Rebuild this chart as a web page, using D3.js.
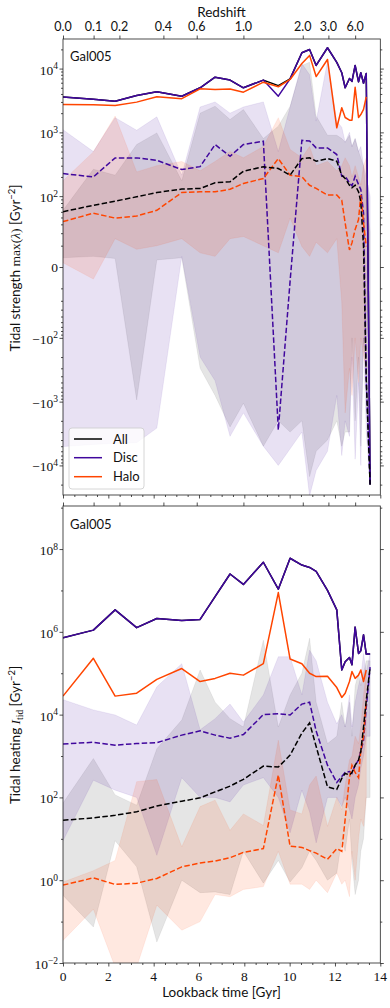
<!DOCTYPE html>
<html>
<head>
<meta charset="utf-8">
<script src="https://cdn.jsdelivr.net/npm/d3@7"></script>
<style>
  body { margin: 0; background: #fff; }
  .sans { font-family: Lato, "DejaVu Sans", sans-serif; }
  .serif { font-family: "Liberation Serif", "DejaVu Serif", serif; }
</style>
</head>
<body>
<svg id="chart" width="390" height="1008"></svg>
<script>
// lookback time of each snapshot [Gyr]
const T = [0, 1.34, 2.3, 3.25, 4.14, 5.24, 6.05, 6.71, 7.37, 7.96, 8.84, 9.5, 10.02, 10.54, 10.88,
  11.17, 11.67, 12.08, 12.3, 12.45, 12.64, 12.75, 12.89, 13.04, 13.14, 13.26, 13.38, 13.55];

// top panel: tidal strength max(lambda) [Gyr^-2]
const strAllMax  = [3600, 3300, 3080, 3790, 4330, 3690, 5000, 7330, 6600, 5000, 6600, 5400, 6900, 17700, 19900, 11200, 21200, 12500, 8600, 5000, 7000, 6300, 11200, 6200, 8600, 5900, 8400, -20000];
const strDiscMax = [3600, 3300, 3080, 3790, 4330, 3690, 5000, 7330, 6600, 5000, 6600, 3690, 6900, 17700, 19900, 11200, 21200, 12500, 8600, 5000, 7000, 6300, 11200, 6200, 8600, 5900, 8400, -20000];
const strHaloMax = [2740, 2700, 2640, 2980, 3610, 3370, 4820, 4700, 4800, 4270, 6120, 5190, 6760, 12000, 16100, 7500, 13900, 1180, 2430, 1710, 1550, 1550, 5100, 1710, 1900, 2290, 3600, null];
const strAllMed  = [78, 87, 93, 99, 114, 129, 132, 162, 168, 246, 288, 271, 213, 388, 400, 352, 388, 352, 213, 189, 148, 135, 148, 117, 92, 29, -450, -20000];
const strDiscMed = [226, 200, 398, 398, 365, 261, 290, 644, 422, 644, 726, -2770, -20, 752, 730, 571, 571, 449, 205, 205, 161, 145, 205, 152, 127, 76, -450, -20000];
const strHaloMed = [64, 76, 69, 72, 80, 114, 117, 117, 128, 158, 189, 388, 213, 201, 148, 132, 104, 104, 94, 62, 24, 34, 53, 67, 104, 62, 29, null];
const strAllLo   = [13, 15, 12, -940, 10, 13, -300, -800, -2500, -1060, -5000, -2000, -3000, -2000, -15000, -6000, -4000, -2000, -5000, -3000, -3000, -100, -2000, -200, -5000, -100, -500, -20000];
const strAllHi   = [80, 264, 213, 645, 980, 174, 2000, 2570, 1590, 2280, 800, 1250, 2570, 11200, 12600, 1800, 900, 900, 800, 700, 900, 600, 800, 500, 400, 300, 100, 50];
const strDiscLo  = [-5070, -4700, -4500, -4400, -2600, 15, -200, -470, -3500, -1500, -5000, -10000, -5500, -3000, -30000, -12000, -6000, -800, -7000, -2000, -3500, -200, -8000, -500, -10000, -100, -3000, -20000];
const strDiscHi  = [1100, 500, 1700, 1080, 1750, 213, 2500, 3000, 2000, 2500, 3000, 500, 2500, 12000, 8000, 1500, 13000, 1500, 1200, 700, 1000, 600, 800, 500, 600, 300, 200, 100];
const strHaloLo  = [6, -17, 40, 25, 30, 40, 20, 15, 40, 43, 30, 20, 69, 29, 15, 35, 20, 40, -50, -1500, -300, -800, -100, -500, -100, -200, -300, null];
const strHaloHi  = [174, 494, 1800, 240, 300, 350, 250, 350, 500, 400, 600, 1700, 540, 400, 600, 300, 350, 250, 300, 400, 300, 200, 300, 200, 150, 300, 400, null];

// bottom panel: tidal heating I_tid [Gyr^-2]
const heatAllMax  = [7.2e5, 1.1e6, 3.4e6, 1.26e6, 2.1e6, 1.87e6, 2.0e6, 7.1e6, 2.5e7, 1.4e7, 4.8e7, 1.07e7, 6.0e7, 4.1e7, 3.6e7, 2.9e7, 1.0e7, 3.4e6, 1.2e5, 1.9e5, 2.4e5, 1.6e5, 1.3e6, 3.0e5, 3.5e5, 8.5e5, 2.9e5, 2.9e5];
const heatDiscMax = [7.2e5, 1.1e6, 3.4e6, 1.26e6, 2.1e6, 1.87e6, 2.0e6, 7.1e6, 2.5e7, 1.4e7, 4.8e7, 1.07e7, 6.0e7, 4.1e7, 3.6e7, 2.9e7, 1.0e7, 3.4e6, 1.2e5, 1.9e5, 2.4e5, 1.6e5, 1.3e6, 3.0e5, 3.5e5, 8.5e5, 2.9e5, 2.9e5];
const heatHaloMax = [2.8e4, 2.3e5, 2.8e4, 3.3e4, 7.1e4, 1.3e5, 6.3e4, 7.5e4, 1.0e5, 9e4, 1.7e5, 8.9e6, 2.2e5, 1.7e5, 1.0e5, 8.3e4, 8.5e4, 4.5e4, 2.6e4, 3.3e4, 6.3e4, 1.1e5, 7.5e4, 9e4, 1.2e5, 6.3e4, 1.2e5, null];
const heatAllMed  = [28, 32, 37, 45, 62, 81, 98, 136, 187, 274, 570, 540, 1050, 3600, 6300, 1700, 180, 156, 288, 380, 350, 400, 600, 800, 1300, 5000, 2.2e4, 1.4e5];
const heatDiscMed = [1950, 2150, 1830, 2000, 2100, 3200, 4050, 3200, 2700, 3300, 1.0e4, 1.05e4, 9.8e3, 1.8e4, 2.0e4, 4000, 600, 230, 320, 400, 420, 380, 600, 800, 1300, 2400, 1.5e4, 1.4e5];
const heatHaloMed = [0.76, 1.14, 0.79, 0.85, 1.1, 2.1, 2.6, 2.9, 3.5, 4.7, 5.8, 347, 6.6, 6.2, 5.2, 4.5, 3.2, 5.8, 5, 30, 300, 600, 400, 300, 1400, 3000, 2.2e4, null];
const heatAllLo   = [0.43, 0.074, 9, 2.1, 0.032, 1, 0.5, 0.52, 0.45, 5, 0.85, 3, 0.9, 2, 5, 3, 1, 1.5, 10, 5, 30, 3, 0.45, 1, 5, 10, 100, 100];
const heatAllHi   = [73, 870, 115, 65, 1500, 7400, 1.2e5, 2e4, 8e3, 5e3, 6.3e5, 5e3, 3e4, 1e5, 7e5, 2e4, 2e3, 3e3, 2e4, 5e3, 2e4, 3e3, 5e4, 1e5, 5e4, 1e5, 2e5, 2e5];
const heatDiscLo  = [9, 260, 150, 100, 4, 300, 100, 100, 78, 200, 300, 100, 14, 150, 45, 8, 100, 100, 60, 100, 50, 30, 100, 200, 500, 1000, 3000, 3000];
const heatDiscHi  = [2.3e4, 1.3e4, 9.8e3, 5.6e3, 4.7e4, 1.7e5, 4300, 8e3, 1.8e4, 6.6e3, 3e4, 2.5e5, 2.5e5, 3e4, 3.6e5, 2e5, 2e4, 6e3, 1e4, 5e3, 3e4, 5e3, 2e4, 5e4, 8e4, 3e5, 1e5, 3e5];
const heatHaloLo  = [0.035, 0.2, 0.008, 0.008, 0.25, 0.062, 0.1, 0.45, 0.4, 0.6, 0.7, 5, 0.8, 0.8, 0.6, 1, 0.5, 1.5, 0.8, 1, 0.4, 5, 1, 10, 30, 20, 100, null];
const heatHaloHi  = [0.9, 1.7, 3, 240, 270, 6.4, 60, 86, 16, 40, 21, 2400, 50, 40, 200, 330, 20, 100, 50, 200, 800, 1000, 3000, 2000, 5000, 3e4, 1e5, null];

// axes
const timeMajor = [0, 2, 4, 6, 8, 10, 12, 14];
const timeMinor = d3.range(0, 14.01, 0.5).filter(t => t % 2 !== 0);
const zLabels = ['0.0', '0.1', '0.2', '0.4', '0.6', '1.0', '2.0', '3.0', '6.0'];
const zLookback = [0, 1.35, 2.49, 4.43, 5.9, 7.96, 10.58, 11.71, 12.89];
const strMajor = [1e4, 1e3, 1e2, 0, -1e2, -1e3, -1e4];
const heatMajor = [1e8, 1e6, 1e4, 1e2, 1, 1e-2];
const heatMinor = [1e9, 1e7, 1e5, 1e3, 10, 0.1];

const names = ['All', 'Disc', 'Halo'];
const colors = ['#000000', '#40079d', '#ff4500'];
const bandAlpha = [0.1, 0.12, 0.12];

const svg = d3.select('#chart');
const L = 63, R = 380.3;
const topY0 = 39, topY1 = 495, botY0 = 506, botY1 = 963;

const x = d3.scaleLinear().domain([0, 14]).range([L, R]);

// matplotlib-style symlog, linthresh 100, linscale 1
const LIN = 1 / 0.9;
const symlog = v => Math.abs(v) <= 100 ? v / 100 * LIN : Math.sign(v) * (LIN + Math.log10(Math.abs(v) / 100));
const yTopS = d3.scaleLinear().domain([-3.575, 3.575]).range([topY1, topY0]);
const yTop = v => yTopS(symlog(v));
const yBot = d3.scaleLog().domain([1e-2, Math.pow(10, 9.04)]).range([botY1, botY0]);

function drawPanel(yf, bands, mains, meds, clipId, y0, y1) {
  svg.append('clipPath').attr('id', clipId)
    .append('rect').attr('x', L).attr('y', y0).attr('width', R - L).attr('height', y1 - y0);
  const g = svg.append('g').attr('clip-path', `url(#${clipId})`);

  bands.forEach((b, k) => {
    const rows = T.map((t, i) => ({t, lo: b[0][i], hi: b[1][i]}));
    g.append('path').datum(rows)
      .attr('d', d3.area()
        .defined(d => d.lo != null && d.hi != null)
        .x(d => x(d.t)).y0(d => yf(d.lo)).y1(d => yf(d.hi)))
      .attr('fill', colors[k]).attr('fill-opacity', bandAlpha[k])
      .attr('stroke', colors[k]).attr('stroke-opacity', bandAlpha[k] * 0.8)
      .attr('stroke-width', 0.8);
  });

  const line = d3.line().defined(d => d[1] != null).x(d => x(d[0])).y(d => yf(d[1]));
  mains.forEach((s, k) => {
    g.append('path').datum(T.map((t, i) => [t, s[i]]))
      .attr('d', line).attr('fill', 'none')
      .attr('stroke', colors[k]).attr('stroke-width', 1.5).attr('stroke-linejoin', 'round');
  });
  [1, 2, 0].forEach(k => {
    g.append('path').datum(T.map((t, i) => [t, meds[k][i]]))
      .attr('d', line).attr('fill', 'none')
      .attr('stroke', colors[k]).attr('stroke-width', 1.5)
      .attr('stroke-dasharray', '5.5,2.4');
  });

  svg.append('rect').attr('x', L).attr('y', y0).attr('width', R - L).attr('height', y1 - y0)
    .attr('fill', 'none').attr('stroke', '#222').attr('stroke-width', 0.8);
}

drawPanel(yTop,
  [[strAllLo, strAllHi], [strDiscLo, strDiscHi], [strHaloLo, strHaloHi]],
  [strAllMax, strDiscMax, strHaloMax],
  [strAllMed, strDiscMed, strHaloMed], 'clipTop', topY0, topY1);

drawPanel(yBot,
  [[heatAllLo, heatAllHi], [heatDiscLo, heatDiscHi], [heatHaloLo, heatHaloHi]],
  [heatAllMax, heatDiscMax, heatHaloMax],
  [heatAllMed, heatDiscMed, heatHaloMed], 'clipBot', botY0, botY1);

// tick helper
function tickAxis(axis, scale, vals, size, tx, ty) {
  const g = svg.append('g').attr('transform', `translate(${tx},${ty})`)
    .call(axis(scale).tickValues(vals).tickSize(size).tickFormat(''));
  g.select('.domain').remove();
  g.selectAll('.tick line').attr('stroke', '#222').attr('stroke-width', 0.8);
  return g;
}

// top-panel y ticks
const strMinorT = [];
[2, 3, 4].forEach(e => d3.range(2, 10).forEach(m => {
  const v = m * Math.pow(10, e);
  if (symlog(v) < 3.575) { strMinorT.push(symlog(v), -symlog(v)); }
}));
d3.range(2, 10).forEach(m => {
  const p = LIN * Math.log10(m);
  strMinorT.push(p, -p);
});
const strMajorT = strMajor.map(symlog);
tickAxis(d3.axisLeft, yTopS, strMajorT, 3.5, L, 0);
tickAxis(d3.axisLeft, yTopS, strMinorT, 2, L, 0);
tickAxis(d3.axisRight, yTopS, strMajorT, 3.5, R, 0);
tickAxis(d3.axisRight, yTopS, strMinorT, 2, R, 0);

// bottom-panel y ticks
tickAxis(d3.axisLeft, yBot, heatMajor, 3.5, L, 0);
tickAxis(d3.axisLeft, yBot, heatMinor, 2, L, 0);
tickAxis(d3.axisRight, yBot, heatMajor, 3.5, R, 0);
tickAxis(d3.axisRight, yBot, heatMinor, 2, R, 0);

// x ticks
tickAxis(d3.axisBottom, x, timeMajor, 3.5, 0, topY1);
tickAxis(d3.axisBottom, x, timeMinor, 2, 0, topY1);
tickAxis(d3.axisBottom, x, timeMajor, 3.5, 0, botY1);
tickAxis(d3.axisBottom, x, timeMinor, 2, 0, botY1);
tickAxis(d3.axisTop, x, zLookback, 3.5, 0, topY0);
tickAxis(d3.axisTop, x, zLookback, 3.5, 0, botY0);

// power-of-ten labels
function powLabel(v, xPos, yPos) {
  const t = svg.append('text').attr('class', 'serif').attr('x', xPos).attr('y', yPos)
    .attr('text-anchor', 'end').attr('font-size', 13.5).attr('fill', '#111');
  if (v === 0) { t.text('0'); return; }
  const e = Math.round(Math.log10(Math.abs(v)));
  t.append('tspan').text((v < 0 ? '\u2212' : '') + '10');
  t.append('tspan').attr('dy', -5.5).attr('font-size', 9.5).text(String(e).replace('-', '\u2212'));
}
strMajor.forEach(v => powLabel(v, 58, yTop(v) + (v === 0 ? 4.5 : 6)));
heatMajor.forEach(v => powLabel(v, 58, yBot(v) + 6));

// bottom x labels
timeMajor.forEach(t => {
  svg.append('text').attr('class', 'serif').attr('x', x(t)).attr('y', 981)
    .attr('text-anchor', 'middle').attr('font-size', 13.5).attr('fill', '#111').text(t);
});
svg.append('text').attr('class', 'sans').attr('x', 221.5).attr('y', 997)
  .attr('text-anchor', 'middle').attr('font-size', 13.5).attr('fill', '#111').text('Lookback time [Gyr]');

// redshift labels
zLookback.forEach((t, i) => {
  svg.append('text').attr('class', 'sans').attr('x', x(t)).attr('y', 30.7)
    .attr('text-anchor', 'middle').attr('font-size', 12.5).attr('fill', '#111').text(zLabels[i]);
});
svg.append('text').attr('class', 'sans').attr('x', 221.5).attr('y', 16.7)
  .attr('text-anchor', 'middle').attr('font-size', 13.5).attr('fill', '#111').text('Redshift');

// panel tags
[[60.7], [529]].forEach(([yy]) => {
  svg.append('text').attr('class', 'sans').attr('x', 70).attr('y', yy)
    .attr('font-size', 13).attr('fill', '#111').text('Gal005');
});

// y titles
const yt1 = svg.append('text').attr('transform', 'translate(20,268) rotate(-90)')
  .attr('text-anchor', 'middle').attr('font-size', 13.5).attr('fill', '#111');
yt1.append('tspan').attr('class', 'sans').text('Tidal strength ');
yt1.append('tspan').attr('class', 'serif').text('max(');
yt1.append('tspan').attr('class', 'serif').attr('font-style', 'italic').text('\u03bb');
yt1.append('tspan').attr('class', 'serif').text(')');
yt1.append('tspan').attr('class', 'sans').text(' [Gyr');
yt1.append('tspan').attr('class', 'sans').attr('dy', -5).attr('font-size', 9.5).text('\u22122');
yt1.append('tspan').attr('class', 'sans').attr('dy', 5).text(']');

const yt2 = svg.append('text').attr('transform', 'translate(20,735) rotate(-90)')
  .attr('text-anchor', 'middle').attr('font-size', 13.5).attr('fill', '#111');
yt2.append('tspan').attr('class', 'sans').text('Tidal heating ');
yt2.append('tspan').attr('class', 'serif').attr('font-style', 'italic').text('I');
yt2.append('tspan').attr('class', 'serif').attr('dy', 3).attr('font-size', 9.5).text('tid');
yt2.append('tspan').attr('class', 'sans').attr('dy', -3).text(' [Gyr');
yt2.append('tspan').attr('class', 'sans').attr('dy', -5).attr('font-size', 9.5).text('\u22122');
yt2.append('tspan').attr('class', 'sans').attr('dy', 5).text(']');

// legend
const lg = svg.append('g');
lg.append('rect').attr('x', 69).attr('y', 428).attr('width', 75).attr('height', 61).attr('rx', 3)
  .attr('fill', '#fff').attr('fill-opacity', 0.8).attr('stroke', '#ccc').attr('stroke-width', 0.8);
names.forEach((n, k) => {
  const yy = [439, 457.7, 476.7][k];
  lg.append('line').attr('x1', 74).attr('x2', 102).attr('y1', yy).attr('y2', yy)
    .attr('stroke', colors[k]).attr('stroke-width', 1.5);
  lg.append('text').attr('class', 'sans').attr('x', 113).attr('y', yy + 4.5)
    .attr('font-size', 13).attr('fill', '#111').text(n);
});
</script>
</body>
</html>
